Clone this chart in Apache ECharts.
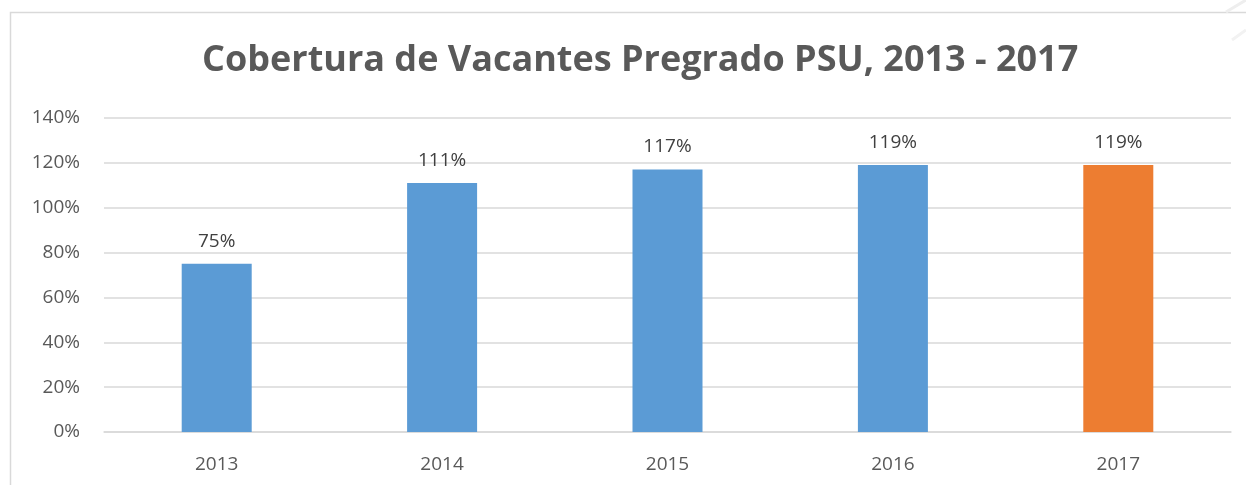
<!DOCTYPE html>
<html><head><meta charset="utf-8">
<script src="https://cdn.jsdelivr.net/npm/echarts@6/dist/echarts.min.js"></script>
<style>html,body{margin:0;padding:0;background:#fff}#c{width:1246px;height:485px}</style>
</head><body><div id="c"></div>
<script>
const categories = ['2013','2014','2015','2016','2017'];
const values = [75, 111, 117, 119, 119];
const barColors = ['#5B9BD5','#5B9BD5','#5B9BD5','#5B9BD5','#ED7D31'];
const title = 'Cobertura de Vacantes Pregrado PSU, 2013 - 2017';

const chart = echarts.init(document.getElementById('c'));
chart.setOption({
  animation: false,
  textStyle: { fontFamily: 'Open Sans' },
  graphic: [
    { type: 'rect', z: -10, shape: { x: 10.5, y: 12.5, width: 1300, height: 600 },
      style: { fill: '#fff', stroke: '#d9d9d9', lineWidth: 1.5 } },
    { type: 'line', shape: { x1: 1226, y1: 12, x2: 1246, y2: 0 }, style: { stroke: '#eeeeee', lineWidth: 3 } },
    { type: 'line', shape: { x1: 1232, y1: 40, x2: 1246, y2: 30 }, style: { stroke: '#f2f2f2', lineWidth: 3 } }
  ],
  title: {
    text: title, left: 197, top: 38,
    textStyle: { fontFamily: 'Open Sans', fontWeight: 'bold', fontSize: 36, color: '#595959' }
  },
  grid: { left: 104, right: 15, top: 118, bottom: 53, containLabel: false },
  xAxis: {
    type: 'category', data: categories,
    axisLine: { show: true, lineStyle: { color: '#d9d9d9', width: 1.5 } },
    axisTick: { show: false },
    axisLabel: { color: '#595959', fontSize: 19, margin: 23 }
  },
  yAxis: {
    type: 'value', min: 0, max: 140, interval: 20,
    axisLine: { show: false }, axisTick: { show: false },
    axisLabel: { color: '#595959', fontSize: 19, margin: 24, formatter: v => v + '%' },
    splitLine: { lineStyle: { color: '#d9d9d9', width: 1.5 } }
  },
  series: [{
    type: 'bar', barWidth: 70,
    data: values.map((v, i) => ({ value: v, itemStyle: { color: barColors[i] } })),
    label: { show: true, position: 'top', distance: 13, color: '#404040', fontSize: 19,
      formatter: p => p.value + '%' }
  }]
});
</script></body></html>
